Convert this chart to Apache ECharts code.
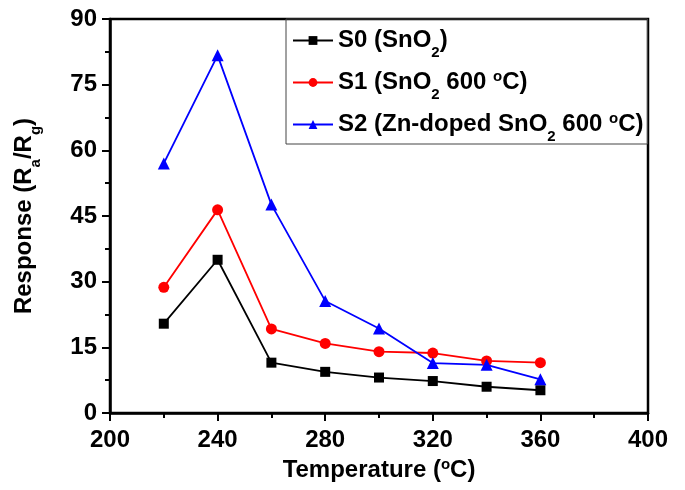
<!DOCTYPE html>
<html>
<head>
<meta charset="utf-8">
<script src="https://cdn.jsdelivr.net/npm/echarts@6/dist/echarts.min.js"></script>
<style>
  html, body { margin: 0; padding: 0; background: #fff; }
  #chart { width: 685px; height: 490px; }
</style>
</head>
<body>
<div id="chart"></div>
<script>
// temperatures (°C)
var temps = [220, 240, 260, 280, 300, 320, 340, 360];
// response Ra/Rg
var s0 = [20.4, 35.0, 11.5, 9.4, 8.1, 7.3, 6.0, 5.2];
var s1 = [28.7, 46.4, 19.2, 15.9, 14.0, 13.7, 11.9, 11.5];
var s2 = [57.0, 81.7, 47.6, 25.6, 19.3, 11.4, 11.0, 7.7];
var names = ['S0', 'S1', 'S2'];
var xTicks = [200, 240, 280, 320, 360, 400];
var yTicks = [0, 15, 30, 45, 60, 75, 90];

var font = 'Liberation Sans, Arial, sans-serif';
var rich = {
  b: { fontFamily: font, fontWeight: 'bold', fontSize: 24, color: '#000', lineHeight: 28 },
  sub: { fontFamily: font, fontWeight: 'bold', fontSize: 15, color: '#000', lineHeight: 15, padding: [24, 0, 0, 0] },
  sup: { fontFamily: font, fontWeight: 'bold', fontSize: 15, color: '#000', lineHeight: 15, padding: [0, 0, 11, 0] }
};

function pairs(arr) {
  return temps.map(function (t, i) { return [t, arr[i]]; });
}

var chart = echarts.init(document.getElementById('chart'));
chart.setOption({
  animation: false,
  backgroundColor: '#fff',
  grid: {
    left: 110, right: 37, top: 19, bottom: 77,
    outerBoundsMode: 'none',
    show: true, borderColor: '#000', borderWidth: 2.5, backgroundColor: 'transparent'
  },
  legend: {
    orient: 'vertical',
    left: 286, top: 19,
    padding: [2, 4, 0, 6],
    itemGap: 3,
    itemWidth: 40,
    itemHeight: 11,
    borderColor: '#444',
    borderWidth: 1,
    data: names,
    formatter: function (n) {
      if (n === 'S0') return '{b|S0 (SnO}{sub|2}{b|)}';
      if (n === 'S1') return '{b|S1 (SnO}{sub|2}{b| 600 }{sup|o}{b|C)}';
      return '{b|S2 (Zn-doped SnO}{sub|2}{b| 600 }{sup|o}{b|C)}';
    },
    textStyle: { rich: rich, padding: [0, 0, 0, 0] }
  },
  xAxis: {
    type: 'value', min: 200, max: 400, interval: 40,
    name: '{b|Temperature (}{sup|o}{b|C)}',
    nameLocation: 'middle', nameGap: 41,
    nameTextStyle: { rich: rich },
    axisLine: { lineStyle: { color: '#000', width: 2.5 } },
    axisTick: { length: 8, lineStyle: { color: '#000', width: 2 } },
    minorTick: { show: true, splitNumber: 2, length: 5, lineStyle: { color: '#000', width: 2 } },
    splitLine: { show: false },
    axisLabel: {
      margin: 15, color: '#000', fontFamily: font, fontWeight: 'bold', fontSize: 24,
      formatter: function (v) { return xTicks.indexOf(v) >= 0 ? v : ''; }
    }
  },
  yAxis: {
    type: 'value', min: 0, max: 90, interval: 15,
    name: '{b|Response (R}{sub|a}{b|/R}{sub|g}{b|)}',
    nameLocation: 'middle', nameGap: 72,
    nameTextStyle: { rich: rich },
    axisLine: { lineStyle: { color: '#000', width: 2.5 } },
    axisTick: { length: 8, lineStyle: { color: '#000', width: 2 } },
    minorTick: { show: true, splitNumber: 2, length: 5, lineStyle: { color: '#000', width: 2 } },
    splitLine: { show: false },
    axisLabel: {
      margin: 13, color: '#000', fontFamily: font, fontWeight: 'bold', fontSize: 24,
      formatter: function (v) { return yTicks.indexOf(v) >= 0 ? v : ''; }
    }
  },
  series: [
    {
      name: 'S0', type: 'line', data: pairs(s0),
      symbol: 'rect', symbolSize: 10,
      lineStyle: { color: '#000', width: 1.8 },
      itemStyle: { color: '#000' }
    },
    {
      name: 'S1', type: 'line', data: pairs(s1),
      symbol: 'circle', symbolSize: 11,
      lineStyle: { color: '#ff0000', width: 1.8 },
      itemStyle: { color: '#ff0000' }
    },
    {
      name: 'S2', type: 'line', data: pairs(s2),
      symbol: 'triangle', symbolSize: 12,
      lineStyle: { color: '#0000ff', width: 1.8 },
      itemStyle: { color: '#0000ff' }
    }
  ]
});
</script>
</body>
</html>
